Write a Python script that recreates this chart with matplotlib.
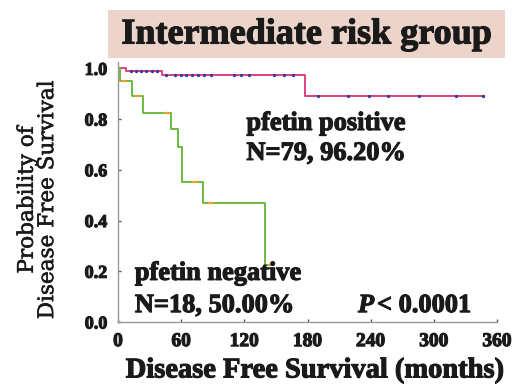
import matplotlib.pyplot as plt
import matplotlib.patheffects as pe
from matplotlib.patches import Rectangle

# Kaplan-Meier steps (months, survival)
pos_times = [0, 8, 42, 178, 348]
pos_surv = [1.0, 0.99, 0.972, 0.89, 0.89]
pos_cens_t = [12, 17, 22, 27, 32, 37, 46, 54, 60, 65, 70, 76, 82, 88, 110, 117, 124,
              148, 158, 166, 190, 218, 238, 256, 286, 321, 347]

neg_times = [0, 2, 13, 24, 50, 57, 61, 81, 140, 146]
neg_surv = [1.0, 0.95, 0.89, 0.825, 0.76, 0.69, 0.55, 0.47, 0.225, 0.225]
neg_cens_t = [6, 19, 47, 73, 88, 145]

xticks = [0, 60, 120, 180, 240, 300, 360]
yticks = [0.0, 0.2, 0.4, 0.6, 0.8, 1.0]


def surv_at(times, surv, t):
    s = surv[0]
    for ti, si in zip(times, surv):
        if ti <= t:
            s = si
    return s


serif = ["Liberation Serif", "DejaVu Serif"]
ink = "#1a1a1a"
heavy = [pe.withStroke(linewidth=0.8, foreground=ink)]  # scan looks heavier than plain bold

fig = plt.figure(figsize=(5.16, 3.90), dpi=100)

# title banner
fig.patches.append(Rectangle((108 / 516, 1 - 58 / 390), 397 / 516, 48 / 390,
                             transform=fig.transFigure, facecolor="#ecd4ca",
                             edgecolor="none", zorder=0))
fig.text(307 / 516, 1 - 35 / 390, "Intermediate risk group", ha="center", va="center",
         fontsize=26, fontweight="bold", family=serif, color=ink, path_effects=heavy)

ax = fig.add_axes([118 / 516, 1 - 322 / 390, 379 / 516, 260 / 390])

ax.step(pos_times, pos_surv, where="post", color="#e0407e", lw=1.4)
ax.plot(pos_cens_t, [surv_at(pos_times, pos_surv, t) for t in pos_cens_t], ls="none",
        marker="o", ms=1.4, color="#3a3a9a")

ax.step(neg_times, neg_surv, where="post", color="#6cba3c", lw=1.4)
ax.plot(neg_cens_t, [surv_at(neg_times, neg_surv, t) for t in neg_cens_t], ls="none",
        marker="_", ms=4, mew=1.6, color="#e8a030")

ax.set_xlim(0, 360)
ax.set_ylim(0, 1.025)
ax.set_xticks(xticks)
ax.set_yticks(yticks)
ax.set_yticklabels(["%.1f" % v for v in yticks])
for lab in ax.get_xticklabels():
    lab.set_fontfamily(serif)
    lab.set_fontweight("bold")
    lab.set_fontsize(14)
    lab.set_path_effects(heavy)
for lab in ax.get_yticklabels():
    lab.set_fontfamily(serif)
    lab.set_fontweight("bold")
    lab.set_fontsize(13)
    lab.set_path_effects(heavy)
ax.tick_params(direction="in", length=2.5, width=1, colors="#555555", labelcolor=ink, pad=8)
for side in ["top", "right"]:
    ax.spines[side].set_visible(False)
for side in ["left", "bottom"]:
    ax.spines[side].set_color("#999999")
    ax.spines[side].set_linewidth(1)

ax.set_xlabel("Disease Free Survival (months)", fontsize=20.5, fontweight="bold",
              family=serif, color=ink, path_effects=heavy)
ax.xaxis.set_label_coords(0.52, -0.14)
ax.set_ylabel("Probability of\nDisease Free Survival", fontsize=15.5, family="DejaVu Serif",
              linespacing=0.9, color=ink,
              path_effects=[pe.withStroke(linewidth=0.4, foreground=ink)])
ax.yaxis.set_label_coords(-0.158, 0.47)

big = dict(fontsize=19, fontweight="bold", family=serif, color=ink, path_effects=heavy)
ax.text(122, 0.757, "pfetin positive", **big)
ax.text(122, 0.639, "N=79, 96.20%", **big)
ax.text(16, 0.166, "pfetin negative", **big)
ax.text(16, 0.039, "N=18, 50.00%", **big)
ax.text(228, 0.039, "P", fontstyle="italic", **big)
ax.text(246, 0.039, "< 0.0001", **big)

fig.savefig("out.png", dpi=100, facecolor="white")
